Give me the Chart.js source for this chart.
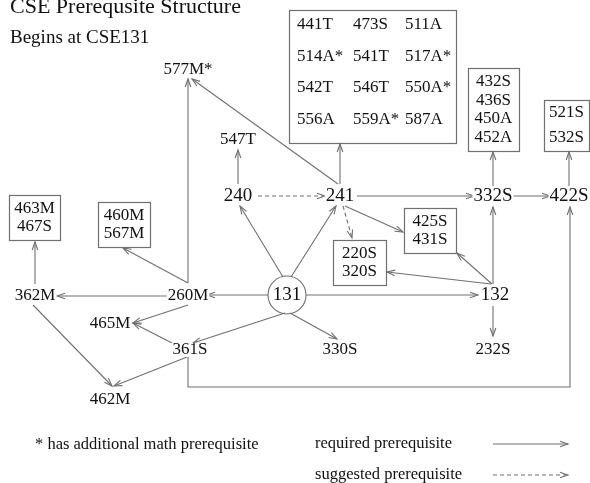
<!DOCTYPE html>
<html>
<head>
<meta charset="utf-8">
<script src="https://cdn.jsdelivr.net/npm/chart.js@4.4.1/dist/chart.umd.min.js"></script>
<style>
  html, body { margin: 0; padding: 0; background: #fff; }
  #wrap { width: 590px; height: 483px; }
</style>
</head>
<body>
<div id="wrap"><canvas id="chart" width="590" height="483"></canvas></div>
<script>
"use strict";

// 見出し
const titleText = 'CSE Prerequsite Structure';
const subtitleText = 'Begins at CSE131';

// 単独の科目ノード
const courseNames = ['577M*', '547T', '240', '241', '332S', '422S', '131', '132', '260M', '362M', '465M', '361S', '330S', '232S', '462M'];
const courseX = [188, 238, 238, 340, 493, 569, 287, 495, 188, 35, 110, 190, 340, 493, 110];
const courseY = [70, 140, 196, 196, 196, 196, 295, 295, 296, 296, 324, 350, 350, 350, 400];
const majorCourses = ['240', '241', '131', '132', '332S', '422S'];

// 枠で囲まれた科目グループ
const groupCourses = [
    ['441T', '473S', '511A', '514A*', '541T', '517A*', '542T', '546T', '550A*', '556A', '559A*', '587A'],
    ['432S', '436S', '450A', '452A'],
    ['521S', '532S'],
    ['463M', '467S'],
    ['460M', '567M'],
    ['220S', '320S'],
    ['425S', '431S']
];
// 枠の範囲 [左, 上, 右, 下]
const groupBounds = [
    [289, 10, 456, 143],
    [468, 68, 519, 151],
    [544, 100, 589, 151],
    [9, 195, 60, 240],
    [98, 202, 150, 247],
    [333, 240, 386, 285],
    [404, 208, 456, 253]
];

// 必須の前提科目（矢印の経路）
const requiredEdges = [
    [[338, 184], [192, 79]],      // 241 -> 577M*
    [[188, 283], [188, 79]],      // 260M -> 577M*
    [[188, 283], [123, 248]],     // 260M -> 460M/567M
    [[238, 184], [238, 150]],     // 240 -> 547T
    [[340, 184], [340, 144]],     // 241 -> 大きい枠
    [[357, 196], [474, 196]],     // 241 -> 332S
    [[513, 196], [550, 196]],     // 332S -> 422S
    [[493, 186], [493, 152]],     // 332S -> 432S...
    [[569, 186], [569, 152]],     // 422S -> 521S/532S
    [[345, 206], [403, 232]],     // 241 -> 425S/431S
    [[283, 277], [240, 206]],     // 131 -> 240
    [[291, 277], [336, 206]],     // 131 -> 241
    [[268, 295], [207, 295]],     // 131 -> 260M
    [[168, 296], [57, 296]],      // 260M -> 362M
    [[306, 295], [478, 295]],     // 131 -> 132
    [[493, 284], [493, 207]],     // 132 -> 332S
    [[492, 284], [457, 253]],     // 132 -> 425S/431S
    [[491, 284], [387, 272]],     // 132 -> 220S/320S
    [[493, 306], [493, 336]],     // 132 -> 232S
    [[35, 284], [35, 242]],       // 362M -> 463M/467S
    [[33, 305], [112, 386]],      // 362M -> 462M
    [[187, 357], [114, 386]],     // 361S -> 462M
    [[172, 343], [133, 323]],     // 361S -> 465M
    [[188, 305], [133, 323]],     // 260M -> 465M
    [[285, 313], [193, 343]],     // 131 -> 361S
    [[290, 313], [337, 339]],     // 131 -> 330S
    [[188, 357], [188, 387], [570, 387], [570, 207]]  // 361S -> 422S
];

// 推奨の前提科目（破線）
const suggestedEdges = [
    [[258, 196], [325, 196]],     // 240 -> 241
    [[343, 206], [352, 238]]      // 241 -> 220S/320S
];

// 凡例
const noteText = '* has additional math prerequisite';
const legendTexts = ['required prerequisite', 'suggested prerequisite'];
const legendY = [444, 475];

const LINE = '#707070';
const INK = '#111';
const SERIF = '"Liberation Serif", "DejaVu Serif", serif';

const toPoints = (path) => path.map(([x, y]) => ({ x, y }));

const edgeDataset = (path, dashed) => ({
    data: toPoints(path),
    showLine: true,
    pointRadius: 0,
    borderColor: LINE,
    borderWidth: 1.1,
    borderDash: dashed ? [4, 3] : [],
    arrow: true
});

const datasets = [];
requiredEdges.forEach(p => datasets.push(edgeDataset(p, false)));
suggestedEdges.forEach(p => datasets.push(edgeDataset(p, true)));
datasets.push(edgeDataset([[493, legendY[0]], [568, legendY[0]]], false));
datasets.push(edgeDataset([[493, legendY[1]], [568, legendY[1]]], true));

// ノード（131 だけ丸で囲む）
datasets.push({
    data: courseNames.map((n, i) => ({ x: courseX[i], y: courseY[i] })),
    pointRadius: courseNames.map(n => n === '131' ? 19 : 0),
    pointBorderColor: LINE,
    pointBorderWidth: 1.1,
    pointBackgroundColor: 'rgba(0,0,0,0)',
    showLine: false
});

// 矢印の先端
const arrowPlugin = {
    id: 'arrows',
    afterDatasetsDraw(chart) {
        const ctx = chart.ctx;
        chart.data.datasets.forEach((ds, i) => {
            if (!ds.arrow) return;
            const pts = chart.getDatasetMeta(i).data;
            const a = pts[pts.length - 2];
            const b = pts[pts.length - 1];
            const ang = Math.atan2(b.y - a.y, b.x - a.x);
            const len = 8, half = 2.8;
            ctx.save();
            ctx.strokeStyle = LINE;
            ctx.lineWidth = 1.1;
            ctx.setLineDash([]);
            ctx.beginPath();
            ctx.moveTo(b.x - len * Math.cos(ang) - half * Math.sin(ang), b.y - len * Math.sin(ang) + half * Math.cos(ang));
            ctx.lineTo(b.x, b.y);
            ctx.lineTo(b.x - len * Math.cos(ang) + half * Math.sin(ang), b.y - len * Math.sin(ang) - half * Math.cos(ang));
            ctx.stroke();
            ctx.restore();
        });
    }
};

// 文字と枠
const labelPlugin = {
    id: 'labels',
    afterDatasetsDraw(chart) {
        const ctx = chart.ctx;
        const sx = chart.scales.x, sy = chart.scales.y;
        const px = v => sx.getPixelForValue(v);
        const py = v => sy.getPixelForValue(v);
        ctx.save();
        ctx.fillStyle = INK;

        ctx.textAlign = 'left';
        ctx.textBaseline = 'alphabetic';
        ctx.font = `22px ${SERIF}`;
        ctx.fillText(titleText, px(10), py(13));
        ctx.font = `19px ${SERIF}`;
        ctx.fillText(subtitleText, px(10), py(43));

        ctx.textAlign = 'center';
        ctx.textBaseline = 'middle';
        courseNames.forEach((n, i) => {
            const big = majorCourses.includes(n);
            ctx.font = `${big ? 19 : 17}px ${SERIF}`;
            // 線の上に文字を置くため背景を白く抜く
            const w = ctx.measureText(n).width;
            ctx.fillStyle = '#fff';
            if (n !== '131') ctx.fillRect(px(courseX[i]) - w / 2 - 1, py(courseY[i]) - 7, w + 2, 14);
            ctx.fillStyle = INK;
            ctx.fillText(n, px(courseX[i]), py(courseY[i]));
        });

        ctx.font = `17px ${SERIF}`;
        groupCourses.forEach((list, g) => {
            const [l, t, r, b] = groupBounds[g];
            ctx.strokeStyle = LINE;
            ctx.lineWidth = 1.2;
            ctx.strokeRect(px(l) + 0.5, py(t) + 0.5, px(r) - px(l), py(b) - py(t));
            if (g === 0) {
                const colX = [297, 353, 405];
                const rowY = [25, 57, 88, 120];
                ctx.textAlign = 'left';
                list.forEach((n, k) => {
                    ctx.fillText(n, px(colX[k % 3]), py(rowY[Math.floor(k / 3)]));
                });
                ctx.textAlign = 'center';
            } else {
                const cx = (l + r) / 2;
                const step = list.length > 2 ? 18.7 : (g === 2 ? 25 : 18.5);
                const first = (t + b) / 2 - step * (list.length - 1) / 2;
                list.forEach((n, k) => {
                    ctx.fillText(n, px(cx), py(first + k * step));
                });
            }
        });

        ctx.textAlign = 'left';
        ctx.font = `16.5px ${SERIF}`;
        ctx.fillText(noteText, px(35), py(445));
        legendTexts.forEach((t, k) => ctx.fillText(t, px(315), py(legendY[k])));
        ctx.restore();
    }
};

new Chart(document.getElementById('chart'), {
    type: 'scatter',
    data: { datasets },
    options: {
        responsive: false,
        animation: false,
        devicePixelRatio: 1,
        events: [],
        layout: { padding: 0, autoPadding: false },
        scales: {
            x: { type: 'linear', min: 0, max: 590, display: false },
            y: { type: 'linear', min: 0, max: 483, reverse: true, display: false }
        },
        plugins: {
            legend: { display: false },
            tooltip: { enabled: false }
        }
    },
    plugins: [arrowPlugin, labelPlugin]
});
</script>
</body>
</html>
